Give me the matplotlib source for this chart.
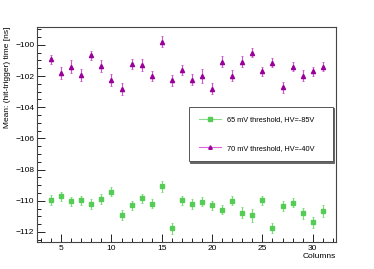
import matplotlib.pyplot as plt
from matplotlib.ticker import MultipleLocator

plt.rcParams['font.family'] = ['Liberation Sans', 'DejaVu Sans']

columns = list(range(4, 32))

mean_65 = [-109.94, -109.72, -110.04, -109.98, -110.21, -109.89, -109.42, -110.92,
           -110.30, -109.85, -110.19, -109.08, -111.75, -109.98, -110.21, -110.06,
           -110.30, -110.58, -110.00, -110.77, -110.94, -109.98, -111.75, -110.34,
           -110.13, -110.81, -111.39, -110.64]
err_65 = [0.3, 0.3, 0.3, 0.3, 0.3, 0.3, 0.3, 0.3, 0.3, 0.3, 0.3, 0.35, 0.35, 0.3,
          0.3, 0.3, 0.3, 0.3, 0.3, 0.35, 0.4, 0.3, 0.3, 0.3, 0.3, 0.35, 0.35, 0.4]

mean_70 = [-100.92, -101.82, -101.39, -101.94, -100.68, -101.37, -102.24, -102.84,
           -101.24, -101.30, -102.01, -99.81, -102.28, -101.62, -102.24, -102.01,
           -102.82, -101.09, -101.97, -101.09, -100.51, -101.69, -101.15, -102.71,
           -101.41, -101.97, -101.71, -101.39]
err_70 = [0.3, 0.4, 0.4, 0.4, 0.3, 0.4, 0.4, 0.4, 0.3, 0.4, 0.3, 0.35, 0.35, 0.3,
          0.35, 0.45, 0.35, 0.35, 0.35, 0.35, 0.3, 0.3, 0.3, 0.35, 0.3, 0.35, 0.3, 0.3]

labels = ['65 mV threshold, HV=-85V', '70 mV threshold, HV=-40V']

fig = plt.figure(figsize=(3.74, 2.69), dpi=100)
ax = fig.add_axes([0.099, 0.100, 0.799, 0.800])

ax.errorbar(columns, mean_65, yerr=err_65, fmt='s', color='#55cc55', ms=3.0,
            ecolor='#77dd77', elinewidth=0.8, capsize=0.8, capthick=0.6,
            label=labels[0])
ax.errorbar(columns, mean_70, yerr=err_70, fmt='^', color='#990099', ms=3.0,
            ecolor='#cc55cc', elinewidth=0.8, capsize=0.8, capthick=0.6,
            label=labels[1])

ax.set_xlim(2.6, 32.3)
ax.set_ylim(-112.65, -98.85)
ax.xaxis.set_major_locator(MultipleLocator(5))
ax.xaxis.set_minor_locator(MultipleLocator(1))
ax.yaxis.set_major_locator(MultipleLocator(2))
ax.yaxis.set_minor_locator(MultipleLocator(0.5))
ax.tick_params(which='both', direction='in', labelsize=6, width=0.6, pad=2)
ax.tick_params(which='major', length=6)
ax.tick_params(which='minor', length=3)
for s in ax.spines.values():
    s.set_linewidth(0.8)
    s.set_color('#444444')

ax.set_xlabel('Columns', fontsize=6, loc='right', labelpad=1)
ax.set_ylabel('Mean: (hit-trigger) time [ns]', fontsize=6, loc='top', labelpad=3)

# legend handles with a line through the marker, ROOT style
h1 = plt.Line2D([], [], color='#88dd88', lw=0.8, marker='s', ms=2.5,
                mfc='#55cc55', mec='#55cc55')
h2 = plt.Line2D([], [], color='#dd66dd', lw=0.8, marker='^', ms=2.5,
                mfc='#990099', mec='#990099')
leg = ax.legend([h1, h2], labels, loc='center', fontsize=5.3,
                bbox_to_anchor=(189 / 374, 1 - 163 / 269, 144 / 374, 58 / 269),
                bbox_transform=fig.transFigure, mode='expand', handlelength=3.1,
                handletextpad=0.8, borderaxespad=0,
                labelspacing=2.9, borderpad=1.3, fancybox=False,
                shadow={'color': '#666666', 'alpha': 1, 'ox': 1, 'oy': -1})
leg.get_frame().set_edgecolor('#555555')
leg.get_frame().set_linewidth(0.7)

fig.savefig('out.png', dpi=100)
